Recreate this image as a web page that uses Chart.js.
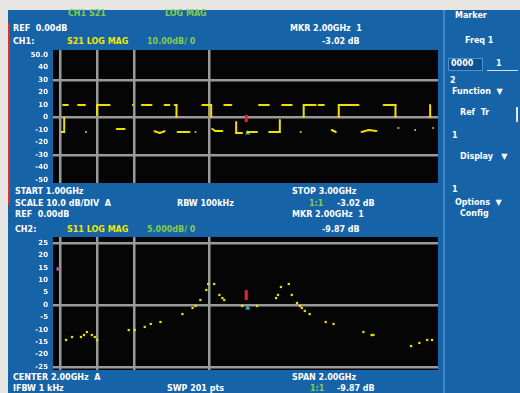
<!DOCTYPE html>
<html>
<head>
<meta charset="utf-8">
<script src="https://cdn.jsdelivr.net/npm/chart.js@4/dist/chart.umd.min.js"></script>
<style>
  html, body { margin: 0; padding: 0; }
  body { width: 520px; height: 393px; background: #e7e6e3; position: relative; overflow: hidden;
         font-family: "DejaVu Sans", sans-serif; font-weight: bold; font-size: 8px; }
  #panel { position: absolute; left: 8px; top: 10px; width: 512px; height: 383px; background: #1763a8; }
  #redbar { position: absolute; left: 8px; top: 23px; width: 2px; height: 182px; background: #e0302a; }
  #sep { position: absolute; left: 443px; top: 10px; width: 2px; height: 383px; background: #3d86c8; }
  .t { position: absolute; color: #fff; white-space: pre; line-height: 10px; }
  .g { color: #86cc4a; }
  .y { color: #f2e600; }
  canvas { position: absolute; }
  #box { position: absolute; left: 448px; top: 58px; width: 33px; height: 11px; border: 1px solid #4d93d2; background: #0f4f8c; }
  #uline { position: absolute; left: 487px; top: 70px; width: 31px; height: 1px; background: #cfe0f0; }
  #vbar { position: absolute; left: 516px; top: 107px; width: 2px; height: 15px; background: #dfe8f2; }
</style>
</head>
<body>
<div id="panel"></div>
<div id="redbar"></div>
<div id="sep"></div>

<!-- header of the upper trace -->
<div class="t g" style="left:68px;top:9px">CH1 S21</div>
<div class="t g" style="left:165px;top:9px">LOG MAG</div>
<div class="t" style="left:13px;top:24px">REF  0.00dB</div>
<div class="t" style="left:13px;top:37px">CH1:</div>
<div class="t y" style="left:67px;top:37px">S21 LOG MAG</div>
<div class="t g" style="left:147px;top:37px">10.00dB/ 0</div>
<div class="t" style="left:290px;top:24px">MKR 2.00GHz  1</div>
<div class="t" style="left:322px;top:37px">-3.02 dB</div>

<!-- between the traces -->
<div class="t" style="left:15px;top:187px">START 1.00GHz</div>
<div class="t" style="left:292px;top:187px">STOP 3.00GHz</div>
<div class="t" style="left:15px;top:199px">SCALE 10.0 dB/DIV  A</div>
<div class="t" style="left:177px;top:199px">RBW 100kHz</div>
<div class="t g" style="left:309px;top:199px">1:1</div>
<div class="t" style="left:337px;top:199px">-3.02 dB</div>
<div class="t" style="left:15px;top:210px">REF  0.00dB</div>
<div class="t" style="left:292px;top:210px">MKR 2.00GHz  1</div>
<div class="t" style="left:15px;top:225px">CH2:</div>
<div class="t y" style="left:67px;top:225px">S11 LOG MAG</div>
<div class="t g" style="left:147px;top:225px">5.000dB/ 0</div>
<div class="t" style="left:322px;top:225px">-9.87 dB</div>

<!-- footer -->
<div class="t" style="left:13px;top:373px">CENTER 2.00GHz  A</div>
<div class="t" style="left:292px;top:373px">SPAN 2.00GHz</div>
<div class="t" style="left:13px;top:384px">IFBW 1 kHz</div>
<div class="t" style="left:167px;top:384px">SWP 201 pts</div>
<div class="t g" style="left:310px;top:384px">1:1</div>
<div class="t" style="left:337px;top:384px">-9.87 dB</div>

<!-- side menu -->
<div class="t" style="left:455px;top:11px">Marker</div>
<div class="t" style="left:465px;top:36px">Freq 1</div>
<div id="box"></div>
<div class="t" style="left:451px;top:59px">0000</div>
<div class="t" style="left:496px;top:59px">1</div>
<div id="uline"></div>
<div class="t" style="left:450px;top:76px">2</div>
<div class="t" style="left:452px;top:87px">Function  ▼</div>
<div class="t" style="left:460px;top:108px">Ref  Tr</div>
<div id="vbar"></div>
<div class="t" style="left:452px;top:131px">1</div>
<div class="t" style="left:460px;top:152px">Display   ▼</div>
<div class="t" style="left:452px;top:185px">1</div>
<div class="t" style="left:455px;top:198px">Options  ▼</div>
<div class="t" style="left:460px;top:209px">Config</div>

<canvas id="top" width="430" height="141" style="left:12px;top:46px;width:430px;height:141px"></canvas>
<canvas id="bot" width="430" height="141" style="left:12px;top:233px;width:430px;height:141px"></canvas>

<script>
// ---- frequency axis (divisions) ----
const xMin = -0.19, xMax = 10.13;
const xGridAt = [0, 1, 2, 4];

// ---- upper trace: S21 (segments separated by null) ----
const topTraceX = [
  0.08, 0.21, null, 0.48, 0.67, null, 0.11, 0.11, 0.03, null, 0.69, null,
  0.99, 0.99, 1.33, null, 1.95, null, 1.52, 1.73, null, 2.19, 2.45, null,
  2.80, 2.93, null, 3.07, 3.12, 3.12, null, 2.53, 2.67, 2.80, null,
  3.15, 3.47, null, 3.63, null, 3.81, 4.05, 4.05, null, 4.40, 4.59, null,
  4.08, 4.16, 4.35, null, 4.72, 4.72, 4.88, null,
  5.33, 5.60, null, 5.95, 6.21, null, 6.53, 6.53, 6.85, null, 6.93, 7.07, null,
  7.47, 7.47, 8.00, null, 8.67, 8.99, 8.99, null, 9.92, 9.92, null,
  5.01, 5.28, null, 5.60, 5.89, 5.89, null, 6.45, null, 7.28, 7.39, null,
  8.08, 8.27, 8.48, null, 9.07, null, 9.52, null, 10.00
];
const topTraceY = [
  6.0, 6.0, null, 6.0, 6.0, null, 4.96, 3.84, 3.84, null, 3.84, null,
  5.2, 6.0, 6.0, null, 6.0, null, 4.08, 4.08, null, 6.0, 6.0, null,
  6.0, 6.0, null, 6.0, 6.0, 5.04, null, 3.9, 3.76, 3.9, null,
  3.84, 3.84, null, 3.84, null, 6.0, 6.0, 5.04, null, 6.0, 6.0, null,
  4.08, 3.92, 3.92, null, 4.64, 3.76, 3.76, null,
  6.0, 6.0, null, 6.0, 6.0, null, 5.04, 6.0, 6.0, null, 6.0, 6.0, null,
  5.04, 6.0, 6.0, null, 6.0, 6.0, 5.04, null, 6.0, 5.04, null,
  3.84, 3.84, null, 3.84, 3.84, 4.8, null, 3.84, null, 4.0, 3.84, null,
  3.84, 4.0, 3.92, null, 4.16, null, 4.0, null, 4.16
];
const topTickLabels = ["50.0", "40", "30", "20", "10", "0", "-10", "-20", "-30", "-40", "-50"];
const topGridAt = [2, 5, 8];

// ---- lower trace: S11 sample points ----
const botTraceX = [
  0.16, 0.32, 0.56, 0.64, 0.72, 0.85, 0.93, 0.99, 1.84, 2.00, 2.27, 2.43, 2.69,
  3.28, 3.55, 3.63, 3.76, 3.92, 3.97, 4.13, 4.27, 4.35, 4.40, 4.88, 5.28,
  5.79, 5.84, 5.92, 6.13, 6.21, 6.35, 6.43, 6.48, 6.56, 6.69, 7.12, 7.33,
  8.13, 8.35, 8.40, 9.41, 9.63, 9.84, 9.97
];
const botTraceY = [
  2.18, 2.42, 2.42, 2.58, 2.82, 2.58, 2.42, 2.18, 2.98, 2.98, 3.23, 3.47, 3.63,
  4.27, 4.76, 4.92, 5.40, 6.21, 6.69, 6.69, 5.81, 5.56, 5.40, 4.92, 4.92,
  5.56, 5.81, 6.45, 6.69, 5.81, 5.16, 4.92, 4.76, 4.52, 4.27, 3.63, 3.47,
  2.82, 2.58, 2.58, 1.69, 1.94, 2.18, 2.18
];
const botTickLabels = ["25", "20", "15", "10", "5", "0", "-5", "-10", "-15", "-20", "-25"];
const botGridAt = [0, 5, 10];

// ---- markers ----
const markerX = 4.99;
const topMarkerSpan = [4.64, 5.2];
const topMarkerDot = 3.76;
const botMarkerSpan = [5.4, 6.2];
const botMarkerDot = 4.76;
const refMarker = { x: -0.05, y: 7.9 };

const GRID = '#9a9a9a';
const YELLOW = '#f0e000';

function pts(xs, ys) {
  return xs.map((x, i) => ({ x: x === null ? NaN : x, y: ys[i] }));
}

const blackArea = {
  id: 'blackArea',
  beforeDraw(chart) {
    const { ctx, chartArea: a } = chart;
    ctx.save();
    ctx.fillStyle = '#050505';
    ctx.fillRect(a.left, a.top, a.right - a.left, a.bottom - a.top);
    ctx.restore();
  }
};

function makeChart(id, datasets, yMin, yMax, tickLabels, gridAt) {
  return new Chart(document.getElementById(id), {
    type: 'line',
    data: { datasets },
    plugins: [blackArea],
    options: {
      responsive: false,
      animation: false,
      events: [],
      layout: { padding: { top: 4, bottom: 4, left: 0, right: 2 } },
      plugins: { legend: { display: false }, tooltip: { enabled: false } },
      scales: {
        x: {
          type: 'linear', min: xMin, max: xMax,
          afterBuildTicks: s => { s.ticks = xGridAt.map(v => ({ value: v })); },
          afterFit: s => { s.height = 0; s.paddingLeft = 0; s.paddingRight = 0; },
          ticks: { display: false },
          border: { display: false },
          grid: { drawTicks: false, lineWidth: 2.5, color: GRID }
        },
        y: {
          type: 'linear', min: yMin, max: yMax,
          afterBuildTicks: s => { s.ticks = tickLabels.map((_, i) => ({ value: 10 - i })); },
          afterFit: s => { s.width = 41; s.paddingTop = 0; s.paddingBottom = 0; },
          border: { display: false },
          grid: {
            drawTicks: false, lineWidth: 2.5,
            color: c => gridAt.includes(c.tick && c.tick.value) ? GRID : 'rgba(0,0,0,0)'
          },
          ticks: {
            autoSkip: false, padding: 5, color: '#ffffff',
            font: { family: 'DejaVu Sans', size: 7, weight: 'bold' },
            callback: v => tickLabels[10 - v]
          }
        }
      }
    }
  });
}

makeChart('top', [
  { data: pts(topTraceX, topTraceY), borderColor: YELLOW, borderWidth: 2, spanGaps: false,
    pointRadius: 1.2, pointStyle: 'rect', pointBackgroundColor: YELLOW, pointBorderWidth: 0, tension: 0 },
  { data: [{ x: markerX, y: topMarkerSpan[0] }, { x: markerX, y: topMarkerSpan[1] }],
    borderColor: '#e8242a', borderWidth: 3, pointRadius: 0 },
  { data: [{ x: markerX + 0.04, y: topMarkerDot }], showLine: false,
    pointStyle: 'triangle', pointRadius: 3, pointBackgroundColor: '#29b8c8', pointBorderWidth: 0 }
], -0.24, 10.4, topTickLabels, topGridAt);

makeChart('bot', [
  { data: pts(botTraceX, botTraceY), showLine: false,
    pointRadius: 1.6, pointStyle: 'rect', pointBackgroundColor: YELLOW, pointBorderWidth: 0 },
  { data: [{ x: markerX, y: botMarkerSpan[0] }, { x: markerX, y: botMarkerSpan[1] }],
    borderColor: '#e8242a', borderWidth: 3, pointRadius: 0 },
  { data: [{ x: markerX + 0.04, y: botMarkerDot }], showLine: false,
    pointStyle: 'triangle', pointRadius: 3, pointBackgroundColor: '#29b8c8', pointBorderWidth: 0 },
  { data: [refMarker], showLine: false,
    pointStyle: 'rect', pointRadius: 2.5, pointBackgroundColor: '#c050b0', pointBorderWidth: 0 }
], -0.24, 10.48, botTickLabels, botGridAt);
</script>
</body>
</html>
